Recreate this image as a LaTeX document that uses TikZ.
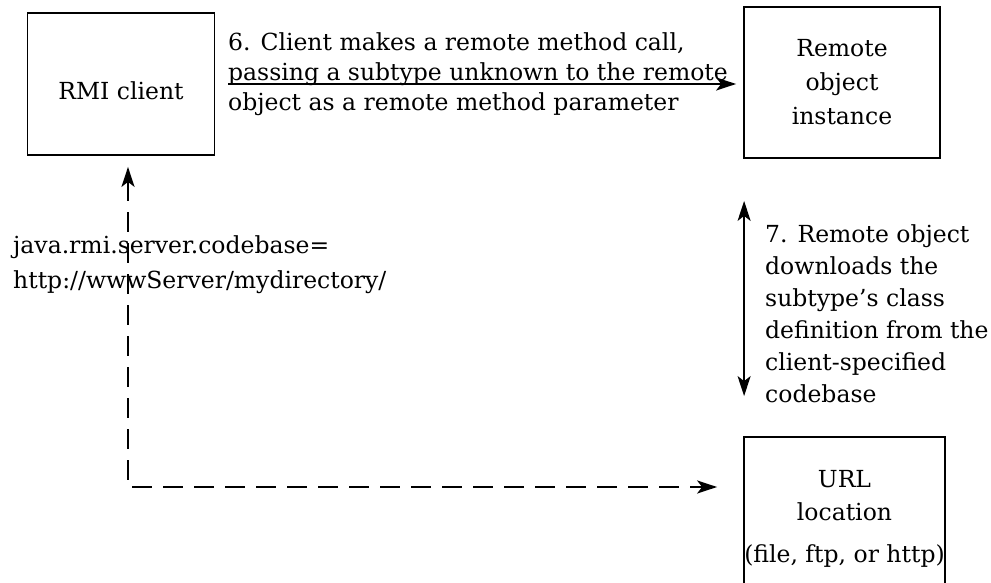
\documentclass[tikz,border=0pt]{standalone}
\usepackage{fontspec}
\setmainfont{DejaVu Serif}
\usepackage{tikz}
\usetikzlibrary{arrows.meta}

\tikzset{
  box/.style={draw, line width=1.8pt, align=center, inner sep=0pt},
  txt/.style={align=left, inner sep=0pt, anchor=north west},
  dashline/.style={line width=1.8pt, dash pattern=on 20pt off 11pt},
}

\begin{document}
\begin{tikzpicture}[x=1pt, y=-1pt, font=\fontsize{23.5}{30}\selectfont,
    >={Stealth[length=20pt, width=13pt, inset=5pt]}]
  \useasboundingbox (0,0) rectangle (991,583);

  % boxes
  \node[box, minimum width=187pt, minimum height=142pt, text height=32pt, text depth=0pt] (client) at (121, 84) {RMI client};
  \node[box, minimum width=196pt, minimum height=151pt,
        font=\fontsize{23.5}{34}\selectfont] (remote) at (842, 82.5) {Remote\\object\\instance};
  \node[box, minimum width=201pt, minimum height=164pt,
        font=\fontsize{23.5}{33}\selectfont] (url) at (844.5, 519) {URL\\location\\[9pt](file, ftp, or http)};

  % step 6
  \draw[line width=1.8pt, ->, shorten <=13pt, shorten >=7pt] (client.east) -- (client.east -| remote.west);
  \node[txt] (call) at (228, 32) {6. Client makes a remote method call,\\passing a subtype unknown to the remote\\object as a remote method parameter};

  % codebase
  \node[txt, font=\fontsize{23.5}{35}\selectfont] (codebase) at (13, 235) {java.rmi.server.codebase=\\http://wwwServer/mydirectory/};
  \coordinate (corner) at (128, 487);
  \draw[dashline, <->, shorten <=11pt, shorten >=26pt]
    ([xshift=7pt]client.south) -- (corner) -- (corner -| url.west);

  % step 7
  \draw[line width=1.8pt, <->]
    ([xshift=1pt, yshift=-42pt]remote.south west) -- ([xshift=1pt, yshift=40pt]url.north west);
  \node[txt, font=\fontsize{23.5}{32}\selectfont] (download) at (765, 224)
    {7. Remote object\\downloads the\\subtype's class\\definition from the\\client-specified\\codebase};
\end{tikzpicture}
\end{document}
